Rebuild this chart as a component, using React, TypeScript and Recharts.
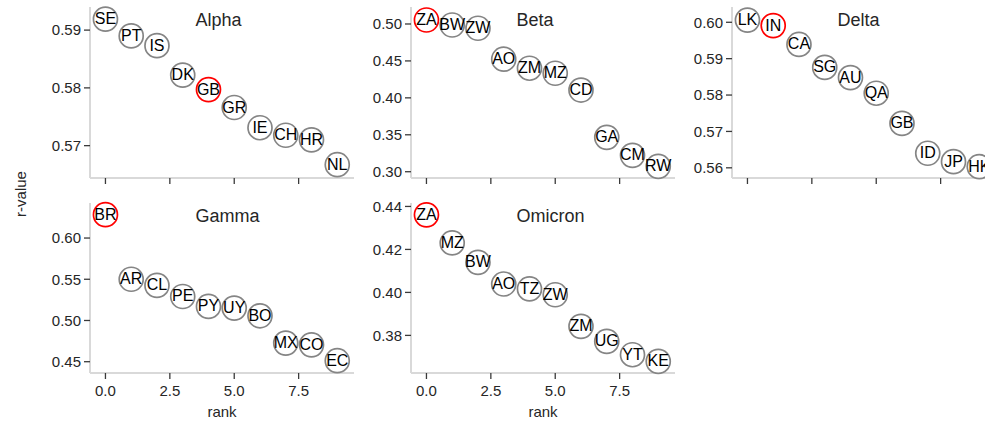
import React from 'react';
import { ScatterChart, Scatter, XAxis, YAxis } from 'recharts';

const FONT = '"Liberation Sans", Arial, Helvetica, sans-serif';

// ---------- data ----------
const ranks = [0, 1, 2, 3, 4, 5, 6, 7, 8, 9];
const xTicks = [0, 2.5, 5, 7.5];

const alphaCodes = ['SE', 'PT', 'IS', 'DK', 'GB', 'GR', 'IE', 'CH', 'HR', 'NL'];
const alphaValues = [0.5919, 0.589, 0.5873, 0.5822, 0.5797, 0.5766, 0.5731, 0.5718, 0.571, 0.5667];
const alphaTicks = [0.57, 0.58, 0.59];

const betaCodes = ['ZA', 'BW', 'ZW', 'AO', 'ZM', 'MZ', 'CD', 'GA', 'CM', 'RW'];
const betaValues = [0.5054, 0.4986, 0.4942, 0.4523, 0.4401, 0.4333, 0.4106, 0.3466, 0.3222, 0.3073];
const betaTicks = [0.3, 0.35, 0.4, 0.45, 0.5];

const deltaCodes = ['LK', 'IN', 'CA', 'SG', 'AU', 'QA', 'GB', 'ID', 'JP', 'HK'];
const deltaValues = [0.6006, 0.5991, 0.5939, 0.5876, 0.5848, 0.5805, 0.5722, 0.564, 0.5617, 0.5603];
const deltaTicks = [0.56, 0.57, 0.58, 0.59, 0.6];

const gammaCodes = ['BR', 'AR', 'CL', 'PE', 'PY', 'UY', 'BO', 'MX', 'CO', 'EC'];
const gammaValues = [0.6283, 0.55, 0.5425, 0.5291, 0.517, 0.515, 0.5057, 0.4726, 0.4705, 0.4512];
const gammaTicks = [0.45, 0.5, 0.55, 0.6];

const omicronCodes = ['ZA', 'MZ', 'BW', 'AO', 'TZ', 'ZW', 'ZM', 'UG', 'YT', 'KE'];
const omicronValues = [0.4361, 0.423, 0.414, 0.4039, 0.4016, 0.3989, 0.3842, 0.3772, 0.371, 0.3679];
const omicronTicks = [0.38, 0.4, 0.42, 0.44];

const origins = { Alpha: 'GB', Beta: 'ZA', Delta: 'IN', Gamma: 'BR', Omicron: 'ZA' };

// ---------- layout ----------
const PLOT_W = 264;
const PAD_L = 60;
const PAD_T = 20;
const PAD_R = 24;
const PAD_B = 40;
const X_DOMAIN: [number, number] = [-0.6, 9.65];

const SPINE = '#d9d9d9';
const TICK = '#3a3a3a';
const TEXT = '#262626';

type Panel = {
  title: string;
  codes: string[];
  values: number[];
  origin: string;
  yDomain: [number, number];
  yTicks: number[];
  plotLeft: number;
  plotTop: number;
  plotH: number;
  showX: boolean;
};

const panels: Panel[] = [
  { title: 'Alpha', codes: alphaCodes, values: alphaValues, origin: origins.Alpha, yDomain: [0.5644, 0.594], yTicks: alphaTicks, plotLeft: 90, plotTop: 7, plotH: 171, showX: false },
  { title: 'Beta', codes: betaCodes, values: betaValues, origin: origins.Beta, yDomain: [0.2915, 0.523], yTicks: betaTicks, plotLeft: 411, plotTop: 7, plotH: 171, showX: false },
  { title: 'Delta', codes: deltaCodes, values: deltaValues, origin: origins.Delta, yDomain: [0.5572, 0.6042], yTicks: deltaTicks, plotLeft: 732, plotTop: 7, plotH: 171, showX: false },
  { title: 'Gamma', codes: gammaCodes, values: gammaValues, origin: origins.Gamma, yDomain: [0.4363, 0.6425], yTicks: gammaTicks, plotLeft: 90, plotTop: 203, plotH: 170, showX: true },
  { title: 'Omicron', codes: omicronCodes, values: omicronValues, origin: origins.Omicron, yDomain: [0.3625, 0.4416], yTicks: omicronTicks, plotLeft: 411, plotTop: 203, plotH: 170, showX: true },
];

const CircleShape = (props: any) => {
  const { cx, cy, payload } = props;
  if (cx == null || cy == null) return <g />;
  return (
    <circle
      cx={cx}
      cy={cy}
      r={12}
      fill="#ffffff"
      stroke={payload.hl ? '#ff0000' : '#858585'}
      strokeWidth={1.7}
    />
  );
};

const LabelShape = (props: any) => {
  const { cx, cy, payload } = props;
  if (cx == null || cy == null) return <g />;
  return (
    <text
      x={cx}
      y={cy + 5}
      textAnchor="middle"
      fontFamily={FONT}
      fontSize={16}
      fill="#000000"
    >
      {payload.code}
    </text>
  );
};

const tickStyle = { fill: TEXT, fontSize: 15, fontFamily: FONT };

function PanelChart({ p }: { p: Panel }) {
  const data = p.codes.map((c, i) => ({ rank: ranks[i], r: p.values[i], code: c, hl: c === p.origin }));
  const w = PAD_L + PLOT_W + PAD_R;
  const h = PAD_T + p.plotH + PAD_B;
  return (
    <div style={{ position: 'absolute', left: p.plotLeft - PAD_L, top: p.plotTop - PAD_T }}>
      <ScatterChart width={w} height={h} margin={{ top: PAD_T, right: PAD_R, bottom: 0, left: 0 }}>
        <XAxis
          type="number"
          dataKey="rank"
          domain={X_DOMAIN}
          ticks={xTicks}
          height={PAD_B}
          axisLine={{ stroke: SPINE, strokeWidth: 2 }}
          tickLine={{ stroke: TICK, strokeWidth: 1.3 }}
          tickSize={6}
          tickMargin={6}
          tick={tickStyle}
          tickFormatter={(v: number) => (p.showX ? v.toFixed(1) : '')}
        />
        <YAxis
          type="number"
          dataKey="r"
          domain={p.yDomain}
          ticks={p.yTicks}
          width={PAD_L}
          axisLine={{ stroke: SPINE, strokeWidth: 2 }}
          tickLine={{ stroke: TICK, strokeWidth: 1.3 }}
          tickSize={6}
          tickMargin={3}
          tick={tickStyle}
          tickFormatter={(v: number) => v.toFixed(2)}
        />
        <Scatter data={data} shape={CircleShape} isAnimationActive={false} />
        <Scatter data={data} shape={LabelShape} isAnimationActive={false} />
      </ScatterChart>
    </div>
  );
}

export default function App() {
  return (
    <div style={{ position: 'absolute', left: 0, top: 0, width: 985, height: 421, background: '#ffffff', overflow: 'hidden', fontFamily: FONT }}>
      {panels.map((p) => (
        <PanelChart key={p.title} p={p} />
      ))}
      <svg width={985} height={421} style={{ position: 'absolute', left: 0, top: 0, pointerEvents: 'none' }}>
        {panels.map((p) => (
          <text key={p.title} x={p.plotLeft + 0.4 * PLOT_W} y={p.plotTop + 19} fontFamily={FONT} fontSize={18} fill={TEXT}>
            {p.title}
          </text>
        ))}
        <text
          transform="translate(20,194) rotate(-90)"
          textAnchor="middle"
          dominantBaseline="central"
          fontFamily={FONT}
          fontSize={15}
          fill={TEXT}
        >
          r-value
        </text>
        {panels.filter((p) => p.showX).map((p) => (
          <text key={'x' + p.title} x={p.plotLeft + PLOT_W / 2} y={416.5} textAnchor="middle" fontFamily={FONT} fontSize={15} fill={TEXT}>
            rank
          </text>
        ))}
      </svg>
    </div>
  );
}
